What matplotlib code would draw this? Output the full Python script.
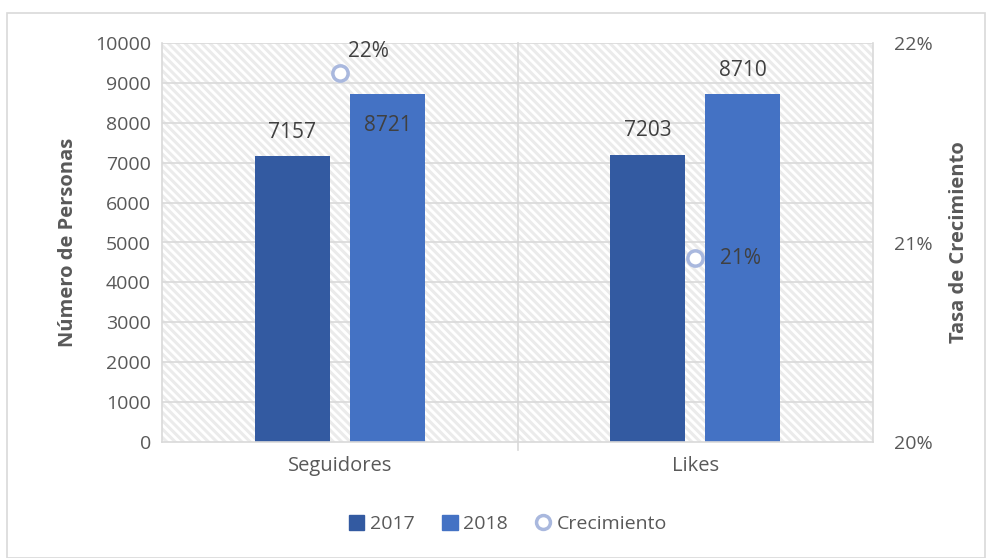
import matplotlib
matplotlib.use("Agg")
import matplotlib.pyplot as plt
import numpy as np
from matplotlib.patches import Rectangle
from matplotlib.lines import Line2D
from matplotlib.ticker import FuncFormatter

categories = ["Seguidores", "Likes"]
v2017 = [7157, 7203]
v2018 = [8721, 8710]
growth = [21.85, 20.92]
growth_labels = ["22%", "21%"]

plt.rcParams['font.family'] = ['Open Sans', 'DejaVu Sans']
plt.rcParams['hatch.color'] = '#EBEBEB'
plt.rcParams['hatch.linewidth'] = 2.2

c17 = '#335AA1'
c18 = '#4472C4'
cm = '#A9B8DE'
tc = '#595959'
lc = '#404040'

fig = plt.figure(figsize=(9.92, 5.58), dpi=100)
fig.patches.append(Rectangle((7/992, 0), (985-7)/992, 1-13/558, transform=fig.transFigure,
                             fill=False, edgecolor='#D9D9D9', linewidth=1.2))
ax = fig.add_axes([162/992, 1-442/558, (873-162)/992, (442-43)/558])
x = np.arange(len(categories))
ax.set_xlim(-0.5, 1.5)
ax.set_ylim(0, 10000)

# hatched background
ax.add_patch(Rectangle((0, 0), 1, 1, transform=ax.transAxes, facecolor='white',
                       edgecolor='#EBEBEB', hatch='\\\\\\\\', linewidth=0, zorder=0))
ax.set_axisbelow(True)
for yv in range(1000, 10001, 1000):
    ax.axhline(yv, color='#D9D9D9', lw=1.2, zorder=1)
for xv in [-0.5, 0.5, 1.5]:
    ax.plot([xv, xv], [0, 10000], color='#D9D9D9', lw=1.2, zorder=1, clip_on=False)
ax.plot([0.5, 0.5], [-200, 0], color='#D9D9D9', lw=1.2, clip_on=False)

w = 0.211
off = 0.134
b1 = ax.bar(x - off, v2017, w, color=c17, zorder=2)
b2 = ax.bar(x + off, v2018, w, color=c18, zorder=2)

for s in ax.spines.values():
    s.set_visible(False)
ax.spines['bottom'].set_visible(True)
ax.spines['bottom'].set_color('#D9D9D9')
ax.spines['bottom'].set_linewidth(1.2)

ax.set_yticks(range(0, 10001, 1000))
ax.tick_params(axis='y', length=0, labelsize=14, labelcolor=tc, pad=8)
ax.set_xticks(x)
ax.set_xticklabels(categories)
ax.tick_params(axis='x', length=0, labelsize=14.5, labelcolor=tc, pad=10)
ax.set_ylabel('Número de Personas', fontsize=14.5, fontweight='bold', color=tc, labelpad=12)

# data labels
fs = 15
ax.text(x[0] - off, v2017[0] + 330, str(v2017[0]), ha='center', va='bottom', fontsize=fs, color=lc, zorder=5)
ax.text(x[0] + off, v2018[0] - 520, str(v2018[0]), ha='center', va='top', fontsize=fs, color=lc, zorder=5)
ax.text(x[1] - off, v2017[1] + 330, str(v2017[1]), ha='center', va='bottom', fontsize=fs, color=lc, zorder=5)
ax.text(x[1] + off, v2018[1] + 330, str(v2018[1]), ha='center', va='bottom', fontsize=fs, color=lc, zorder=5)

ax2 = ax.twinx()
ax2.set_ylim(20, 22)
ax2.set_yticks([20, 21, 22])
ax2.yaxis.set_major_formatter(FuncFormatter(lambda v, p: f"{v:.0f}%"))
ax2.tick_params(axis='y', length=0, labelsize=14, labelcolor=tc, pad=15)
for s in ax2.spines.values():
    s.set_visible(False)
ax2.plot(x, growth, linestyle='none', marker='o', markersize=11, markerfacecolor='white',
         markeredgecolor=cm, markeredgewidth=2.5, zorder=6)
ax2.text(x[0] + 0.08, growth[0] + 0.055, growth_labels[0], ha='center', va='bottom', fontsize=fs, color=lc)
ax2.text(x[1] + 0.07, growth[1], growth_labels[1], ha='left', va='center', fontsize=fs, color=lc)
ax2.set_ylabel('Tasa de Crecimiento', fontsize=14.5, fontweight='bold', color=tc, labelpad=12)

handles = [Rectangle((0, 0), 1, 1, color=c17), Rectangle((0, 0), 1, 1, color=c18),
           Line2D([], [], linestyle='none', marker='o', markersize=10, markerfacecolor='white',
                  markeredgecolor=cm, markeredgewidth=2.5)]
fig.legend(handles, ['2017', '2018', 'Crecimiento'], loc='center', bbox_to_anchor=(0.512, 1-524/558),
           ncol=3, frameon=False, fontsize=14, labelcolor=tc, handlelength=0.8, handleheight=0.8,
           handletextpad=0.3, columnspacing=1.4)

fig.savefig('out.png', dpi=100)
